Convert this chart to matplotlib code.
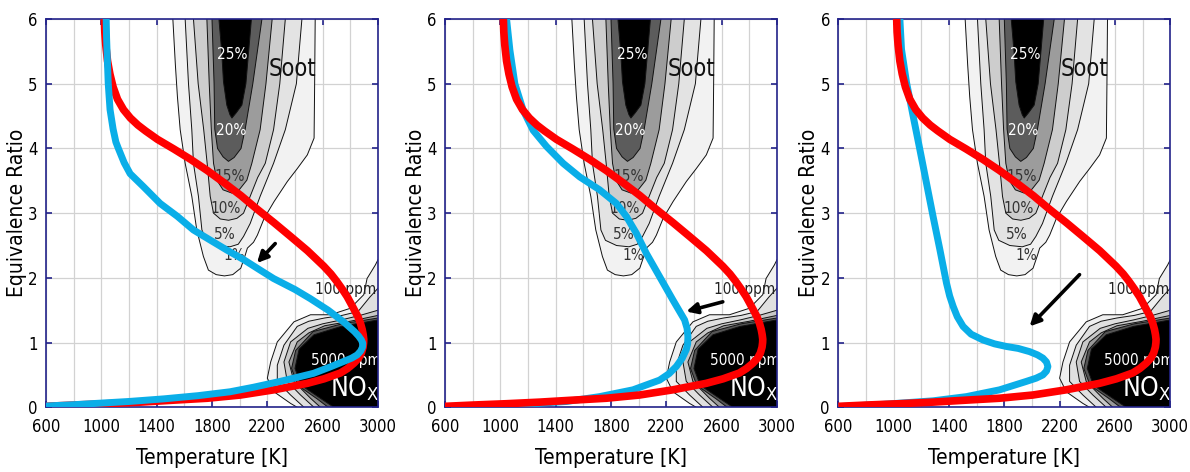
import numpy as np
import matplotlib
matplotlib.use('Agg')
import matplotlib.pyplot as plt
from matplotlib import font_manager
from matplotlib.ticker import MultipleLocator

# the original uses a narrow font; take a condensed one if there is one
narrow = [f for f in font_manager.fontManager.ttflist
          if ('Narrow' in f.name or 'Condensed' in f.name or f.stretch in ('condensed', 'semi-condensed'))
          and 'Mono' not in f.name]
if narrow:
    plt.rcParams['font.family'] = [narrow[0].name, 'Liberation Sans']
    plt.rcParams['font.stretch'] = narrow[0].stretch
else:
    plt.rcParams['font.family'] = ['Liberation Sans', 'DejaVu Sans']
plt.rcParams['mathtext.fontset'] = 'custom'
plt.rcParams['mathtext.rm'] = plt.rcParams['font.family'][0]

# soot contours (T [K], phi), left branch -> tip -> right branch
soot_01 = [(1517, 6.0), (1535, 5.3), (1550, 4.8), (1570, 4.29), (1606, 3.77), (1654, 3.26),
           (1690, 2.74), (1738, 2.33), (1774, 2.12), (1830, 2.05), (1890, 2.03), (1950, 2.05),
           (2008, 2.15), (2040, 2.35), (2056, 2.46), (2100, 2.55), (2128, 2.66), (2177, 2.92),
           (2249, 3.18), (2345, 3.49), (2417, 3.69), (2489, 3.90), (2538, 4.16), (2542, 5.0),
           (2546, 6.0)]
soot_05 = [(1606, 6.0), (1630, 5.0), (1654, 4.29), (1666, 3.77), (1702, 3.26), (1727, 2.74),
           (1760, 2.58), (1840, 2.50), (1930, 2.48), (1990, 2.52), (2028, 2.64), (2076, 2.84),
           (2148, 3.26), (2245, 3.77), (2330, 4.29), (2410, 5.0), (2450, 6.0)]
soot_10 = [(1666, 6.0), (1700, 5.0), (1740, 4.29), (1765, 3.77), (1787, 3.26), (1811, 3.0),
           (1860, 2.91), (1920, 2.89), (1980, 2.92), (2028, 3.0), (2076, 3.26), (2130, 3.55),
           (2185, 3.77), (2245, 4.29), (2290, 5.0), (2330, 6.0)]
soot_15 = [(1763, 6.0), (1780, 5.0), (1795, 4.29), (1811, 3.77), (1835, 3.51), (1880, 3.36),
           (1944, 3.31), (2000, 3.37), (2052, 3.51), (2088, 3.77), (2148, 4.29), (2190, 5.0),
           (2235, 6.0)]
soot_20 = [(1800, 6.0), (1815, 5.0), (1820, 4.3), (1840, 4.0), (1880, 3.87), (1919, 3.80),
           (1960, 3.86), (2010, 4.0), (2040, 4.3), (2095, 5.0), (2161, 6.0)]
soot_25 = [(1850, 6.0), (1870, 5.5), (1883, 5.03), (1907, 4.67), (1930, 4.52), (1944, 4.47),
           (1975, 4.55), (2016, 4.67), (2045, 5.0), (2065, 5.5), (2085, 6.0)]
soot_levels = [soot_01, soot_05, soot_10, soot_15, soot_20, soot_25]
soot_colors = ['#f2f2f2', '#e3e3e3', '#cdcdcd', '#9c9c9c', '#5c5c5c', '#000000']

soot_labels = ['25%', '20%', '15%', '10%', '5%', '1%']
soot_label_T = [1950, 1940, 1928, 1900, 1892, 1958]
soot_label_phi = [5.45, 4.28, 3.56, 3.07, 2.67, 2.34]
soot_label_col = ['white', 'white', '#333333', '#333333', '#333333', '#333333']

# NOx contours (from the right edge round to the T axis)
nox_1 = [(3000, 2.28), (2981, 2.20), (2921, 1.99), (2897, 1.74), (2800, 1.53), (2656, 1.43),
         (2512, 1.43), (2392, 1.32), (2272, 1.01), (2224, 0.70), (2200, 0.45), (2248, 0.24),
         (2368, 0.06), (2416, 0.0)]
nox_2 = [(3000, 1.84), (2940, 1.70), (2856, 1.48), (2740, 1.42), (2614, 1.38), (2500, 1.33),
         (2416, 1.25), (2320, 0.96), (2272, 0.65), (2272, 0.40), (2368, 0.19), (2465, 0.0)]
nox_3 = [(3000, 1.50), (2870, 1.42), (2734, 1.35), (2600, 1.29), (2493, 1.22), (2368, 1.01),
         (2320, 0.70), (2344, 0.40), (2440, 0.19), (2537, 0.0)]
nox_4 = [(3000, 1.42), (2800, 1.33), (2614, 1.26), (2500, 1.15), (2416, 1.01), (2356, 0.70),
         (2392, 0.40), (2512, 0.14), (2584, 0.0)]
nox_5 = [(3000, 1.38), (2740, 1.29), (2530, 1.17), (2405, 0.88), (2375, 0.60), (2420, 0.34),
         (2560, 0.13), (2640, 0.0)]
nox_6 = [(3000, 1.35), (2734, 1.25), (2537, 1.12), (2430, 0.90), (2400, 0.60), (2445, 0.34),
         (2590, 0.13), (2681, 0.0)]
nox_levels = [nox_1, nox_2, nox_3, nox_4, nox_5, nox_6]
nox_colors = ['#f0f0f0', '#e0e0e0', '#c8c8c8', '#999999', '#555555', '#000000']

# red curve, same in all three panels
red_T = [1022, 1025, 1032, 1045, 1062, 1085, 1117, 1160, 1210, 1265, 1320, 1406, 1525, 1646,
         1765, 1887, 2010, 2127, 2250, 2368, 2490, 2608, 2660, 2700, 2740, 2777, 2805, 2830,
         2855, 2873, 2886, 2893, 2897, 2896, 2892, 2880, 2860, 2825, 2780, 2728, 2610, 2488,
         2247, 2007, 1766, 1520, 1285, 1040, 804, 600]
red_phi = [6.0, 5.8, 5.6, 5.35, 5.15, 4.95, 4.76, 4.6, 4.47, 4.36, 4.27, 4.14, 3.99, 3.83,
           3.66, 3.47, 3.27, 3.06, 2.85, 2.64, 2.42, 2.18, 2.06, 1.95, 1.83, 1.71, 1.60, 1.50,
           1.40, 1.30, 1.20, 1.12, 1.05, 1.0, 0.93, 0.84, 0.76, 0.68, 0.60, 0.53, 0.44, 0.37,
           0.27, 0.19, 0.14, 0.11, 0.08, 0.055, 0.035, 0.015]

# blue curves, one per panel
blue1_T = [1035, 1038, 1043, 1050, 1063, 1085, 1105, 1123, 1165, 1208, 1304, 1425, 1550, 1666,
           1790, 1907, 2030, 2148, 2245, 2400, 2510, 2640, 2751, 2830, 2860, 2880, 2890, 2888,
           2875, 2850, 2810, 2776, 2650, 2534, 2400, 2293, 2100, 1931, 1700, 1450, 1200, 1000,
           800, 600]
blue1_phi = [6.0, 5.7, 5.4, 5.0, 4.6, 4.3, 4.1, 4.0, 3.78, 3.61, 3.41, 3.15, 2.95, 2.74,
             2.58, 2.43, 2.28, 2.12, 1.99, 1.82, 1.68, 1.50, 1.32, 1.17, 1.10, 1.04, 0.99, 0.93,
             0.87, 0.81, 0.76, 0.73, 0.62, 0.525, 0.455, 0.40, 0.31, 0.24, 0.18, 0.13, 0.09,
             0.065, 0.04, 0.02]
blue2_T = [1045, 1069, 1105, 1165, 1237, 1334, 1454, 1574, 1718, 1839, 1911, 1983, 2055, 2151,
           2247, 2332, 2350, 2356, 2354, 2344, 2315, 2272, 2220, 2151, 1959, 1718, 1478, 1117, 600]
blue2_phi = [6.0, 5.52, 5.0, 4.59, 4.28, 4.03, 3.77, 3.56, 3.36, 3.15, 2.95, 2.69, 2.38, 2.02,
             1.66, 1.35, 1.22, 1.09, 0.98, 0.89, 0.76, 0.63, 0.52, 0.42, 0.27, 0.165, 0.09,
             0.04, 0.01]
blue3_T = [1045, 1057, 1093, 1141, 1189, 1237, 1285, 1334, 1382, 1405, 1430, 1460, 1502, 1560,
           1646, 1730, 1815, 1900, 1983, 2040, 2079, 2105, 2115, 2105, 2079, 2030, 1959, 1766,
           1526, 1285, 925, 600]
blue3_phi = [6.0, 5.53, 5.02, 4.50, 3.99, 3.47, 2.95, 2.44, 1.92, 1.72, 1.56, 1.40, 1.25, 1.13,
             1.04, 0.98, 0.94, 0.91, 0.86, 0.81, 0.76, 0.70, 0.63, 0.56, 0.50, 0.45, 0.40, 0.27,
             0.165, 0.10, 0.046, 0.01]
blues = [(blue1_T, blue1_phi), (blue2_T, blue2_phi), (blue3_T, blue3_phi)]

# arrows: (tail T, tail phi, head T, head phi)
arrows = [(2257, 2.53, 2125, 2.23), (2608, 1.63, 2344, 1.48), (2344, 2.05, 1983, 1.25)]

x_ticks = [600, 1000, 1400, 1800, 2200, 2600, 3000]
y_ticks = [0, 1, 2, 3, 4, 5, 6]

navy = '#23238a'
red = '#ff0000'
blue = '#0aaee8'

fig = plt.figure(figsize=(11.9, 4.72), dpi=100)
lefts = [46, 445, 838.3]

for i, left in enumerate(lefts):
    ax = fig.add_axes([left / 1190, 1 - 407.3 / 472, 332 / 1190, 388.3 / 472])
    ax.set_xlim(600, 3000)
    ax.set_ylim(0, 6)
    ax.set_xticks(x_ticks)
    ax.set_yticks(y_ticks)
    ax.xaxis.set_minor_locator(MultipleLocator(200))
    ax.grid(True, which='both', axis='x', color='#d2d2d2', lw=0.9, zorder=0)
    ax.grid(True, which='major', axis='y', color='#d2d2d2', lw=0.9, zorder=0)
    ax.set_axisbelow(True)
    ax.tick_params(which='major', direction='in', top=True, right=True, length=4, width=1.2,
                   color=navy, labelsize=12)
    ax.tick_params(axis='x', which='major', pad=8)
    ax.tick_params(axis='y', which='major', pad=6)
    ax.tick_params(which='minor', length=0)
    for sp in ax.spines.values():
        sp.set_color(navy)
        sp.set_linewidth(1.2)

    # soot
    for lev, col in zip(soot_levels, soot_colors):
        T = [p[0] for p in lev]
        ph = [p[1] for p in lev]
        ax.fill(T, ph, color=col, lw=0, zorder=1)
        ax.plot(T, ph, color='#111111', lw=0.7, zorder=1.1)
    for s, t, p, c in zip(soot_labels, soot_label_T, soot_label_phi, soot_label_col):
        ax.text(t, p, s, color=c, fontsize=11, ha='center', va='center', zorder=1.5)
    ax.text(2380, 5.22, 'Soot', fontsize=17, ha='center', va='center', color='#111111', zorder=1.5)

    # NOx
    for lev, col in zip(nox_levels, nox_colors):
        T = [p[0] for p in lev]
        ph = [p[1] for p in lev]
        ax.fill(T + [3000], ph + [0], color=col, lw=0, zorder=1)
        ax.plot(T, ph, color='#111111', lw=0.7, zorder=1.1)
    ax.text(2990, 1.82, '100 ppm', fontsize=11, ha='right', va='center', color='#222222',
            zorder=1.5)
    ax.text(2770, 0.72, '5000 ppm', fontsize=11, ha='center', va='center', color='white', zorder=1.5)
    ax.text(2830, 0.28, r'NO$_{\mathrm{X}}$', fontsize=19, ha='center', va='center', color='white',
            zorder=1.5)

    # curves
    bT, bP = blues[i]
    z_red, z_blue = (4, 5) if i == 0 else (5, 4)
    ax.plot(red_T, red_phi, color=red, lw=5.5, solid_joinstyle='round', solid_capstyle='butt',
            zorder=z_red)
    ax.plot(bT, bP, color=blue, lw=5, solid_joinstyle='round', solid_capstyle='butt',
            zorder=z_blue)

    t0, p0, t1, p1 = arrows[i]
    ax.annotate('', xy=(t1, p1), xytext=(t0, p0),
                arrowprops=dict(arrowstyle='-|>', color='black', lw=2.6, mutation_scale=16,
                                shrinkA=0, shrinkB=0), zorder=6)

    ax.set_xlabel('Temperature [K]', fontsize=15, labelpad=8)
    ax.set_ylabel('Equivalence Ratio', fontsize=15, labelpad=1)

fig.savefig('out.png', dpi=100)
